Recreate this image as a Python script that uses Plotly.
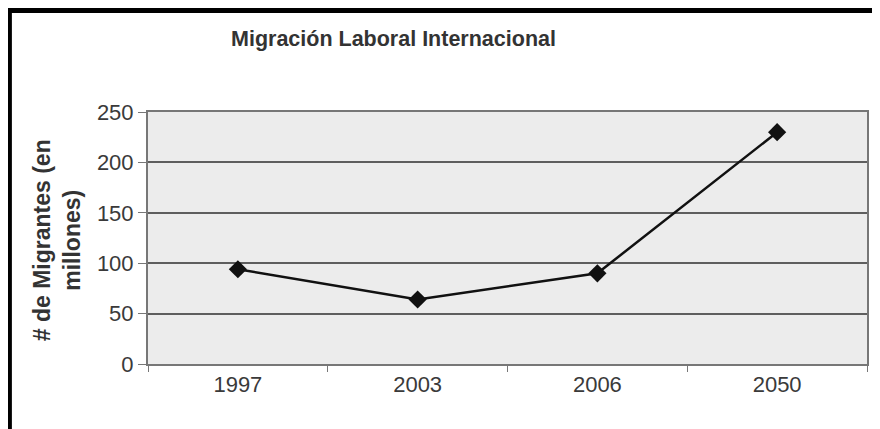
import plotly.graph_objects as go

years = ["1997", "2003", "2006", "2050"]
migrantes = [94, 64, 90, 230]
y_ticks = [0, 50, 100, 150, 200, 250]

# page has an 8px body margin, so the figure is drawn offset by 8px
W, H = 872, 421
L, R, T, B = 140, 11, 104, 65
pw, ph = W - L - R, H - T - B
OFF = 8

def px_x(x):
    return (x - OFF - L) / pw

def px_y(y):
    return (H - B - (y - OFF)) / ph

REG = "Liberation Sans, Arial, sans-serif"

fig = go.Figure()
fig.add_trace(go.Scatter(
    x=years, y=migrantes, mode="lines+markers",
    line=dict(color="#111111", width=2.5),
    marker=dict(symbol="diamond", size=14, color="#111111"),
    showlegend=False,
))

fig.update_layout(
    width=W, height=H,
    margin=dict(l=L, r=R, t=T, b=B),
    paper_bgcolor="white",
    plot_bgcolor="#ececec",
    font=dict(family=REG, color="#3a3a3a"),
    xaxis=dict(
        type="category", range=[-0.5, 3.5],
        showgrid=False, zeroline=False,
        showline=True, linecolor="#777777", linewidth=2, mirror=True,
        ticks="outside", tickson="boundaries", ticklen=6, tickcolor="#777777",
        tickfont=dict(size=22, color="#3a3a3a", family=REG),
        fixedrange=True,
    ),
    yaxis=dict(
        range=[0, 250], tickvals=y_ticks,
        showgrid=True, gridcolor="#5e5e5e", gridwidth=2,
        zeroline=False,
        showline=True, linecolor="#777777", linewidth=2, mirror=True,
        ticks="outside", ticklen=8, tickcolor="#777777",
        tickfont=dict(size=22, color="#3a3a3a", family=REG),
        fixedrange=True,
    ),
    annotations=[
        dict(text="<b>Migración Laboral Internacional</b>",
             xref="paper", yref="paper", x=px_x(394.5), y=px_y(39),
             xanchor="center", yanchor="middle", showarrow=False,
             font=dict(size=21.5, color="#333333", family=REG)),
        dict(text="<b># de Migrantes (en<br>millones)</b>",
             xref="paper", yref="paper", x=px_x(57), y=px_y(240),
             xanchor="center", yanchor="middle", showarrow=False,
             textangle=-90,
             font=dict(size=23, color="#333333", family=REG)),
    ],
    shapes=[
        dict(type="rect", xref="paper", yref="paper",
             x0=px_x(8.5), x1=px_x(W + 40), y0=px_y(H + 40), y1=px_y(10),
             line=dict(color="black", width=6), fillcolor="rgba(0,0,0,0)",
             layer="above"),
    ],
)

fig.write_html("out.html")
